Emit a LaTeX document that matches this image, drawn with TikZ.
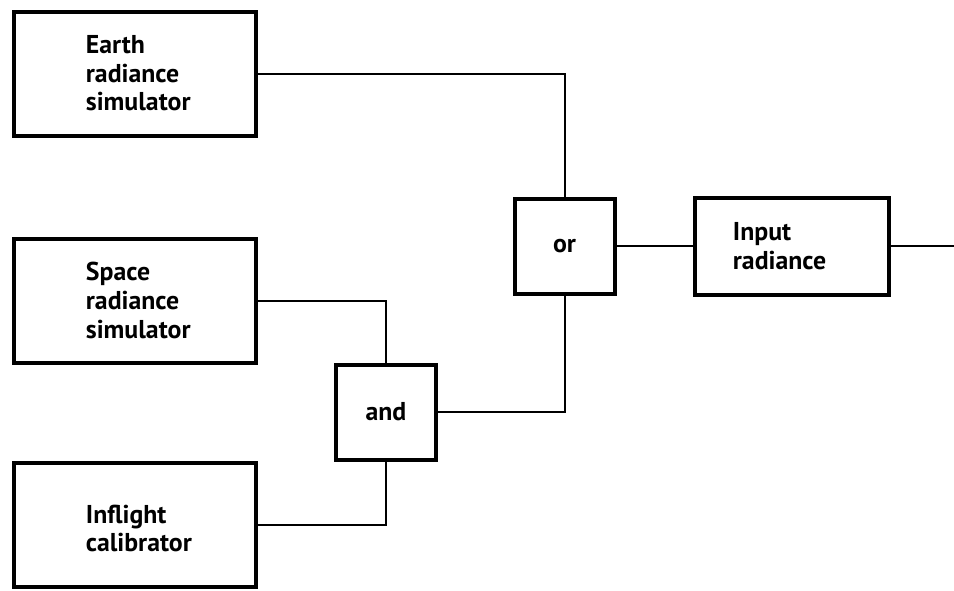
\documentclass[tikz,border=0pt]{standalone}
\usepackage{fontspec}
\setmainfont{PT Sans}
\tikzset{
  block/.style   = {shape=rectangle, draw, line width=2pt, inner sep=0pt,
                    font=\bfseries\fontsize{12.9}{14.3}\selectfont},
  srcbox/.style  = {block, minimum width=121pt, minimum height=62pt},
  gate/.style    = {block, minimum width=50pt, minimum height=47.5pt},
  caption/.style = {anchor=west, align=left, inner sep=0pt,
                    font=\bfseries\fontsize{12.9}{14.3}\selectfont},
  link/.style    = {draw, line width=1pt}
}
\begin{document}
\begin{tikzpicture}[x=0.5pt, y=-0.5pt]
  \useasboundingbox (0,0) rectangle (954,590);
  % sources
  \node [srcbox] (earth)    at (134.5,73.5)  {};
  \node [srcbox] (space)    at (134.5,300.5) {};
  \node [srcbox] (inflight) at (134.5,524.5) {};
  \node [caption] (earthtxt)    at ([xshift=37pt]earth.west)    {Earth\\radiance\\simulator};
  \node [caption] (spacetxt)    at ([xshift=37pt]space.west)    {Space\\radiance\\simulator};
  \node [caption] (inflighttxt) at ([xshift=37pt,yshift=-2pt]inflight.west) {Inflight\\calibrator};
  % gates
  \node [gate] (and) at (386,412)   {and};
  \node [gate] (or)  at (564.5,246) {or};
  % output
  \node [block, minimum width=97pt, minimum height=48.5pt] (input) at (791.5,246) {};
  \node [caption] (inputtxt) at ([xshift=20pt]input.west) {Input\\radiance};
  \coordinate (out) at (954,246);
  % wiring
  \path [link] (earth.east) -| (or.north);
  \path [link] (space.east) -| (and.north);
  \path [link] (inflight.east) -| (and.south);
  \path [link] (and.east) -| (or.south);
  \path [link] (or.east) -- (input.west);
  \path [link] (input.east) -- (out);
\end{tikzpicture}
\end{document}
